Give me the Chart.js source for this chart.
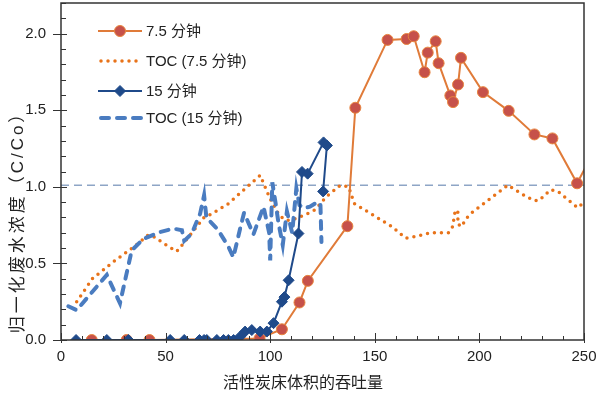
<!DOCTYPE html>
<html>
<head>
<meta charset="utf-8">
<script src="https://cdn.jsdelivr.net/npm/chart.js@4.4.0/dist/chart.umd.min.js"></script>
<style>
  html, body { margin: 0; padding: 0; background: #fff; }
  #wrap { width: 600px; height: 395px; }
</style>
</head>
<body>
<div id="wrap"><canvas id="resultsChart" width="600" height="395"></canvas></div>
<script>
// 7.5 分钟 (circles)
const min75X = [14.7, 31.4, 42.3, 94.9, 105.6, 114, 118, 136.9, 140.7, 156.1, 165.2, 168.6, 173.8, 175.3, 179.1, 180.5, 186.1, 187.4, 189.8, 191.2, 201.7, 214, 226.3, 234.9, 246.7, 255];
const min75Y = [0, 0, 0, 0.01, 0.07, 0.245, 0.386, 0.743, 1.516, 1.959, 1.965, 1.983, 1.748, 1.876, 1.95, 1.807, 1.596, 1.553, 1.668, 1.842, 1.618, 1.496, 1.342, 1.316, 1.023, 1.24];

// TOC (7.5 分钟) dotted
const toc75X = [7.5, 15, 25, 35, 41.6, 45, 48.5, 55.3, 58.2, 68.4, 72.2, 80, 89, 95.2, 100, 104.5, 108, 111, 117.8, 121.5, 126.8, 133.5, 137.5, 140.2, 147.5, 158.2, 164.7, 168.6, 176.9, 185.2, 187.2, 188.5, 190, 189.5, 191.5, 193.5, 196.8, 213.6, 220.7, 226, 228.5, 234, 237.5, 247, 250];
const toc75Y = [0.25, 0.40, 0.51, 0.61, 0.685, 0.67, 0.636, 0.578, 0.625, 0.80, 0.825, 0.89, 1.00, 1.075, 0.92, 0.81, 0.78, 0.786, 0.825, 0.85, 0.935, 1.01, 1.0, 0.89, 0.83, 0.74, 0.665, 0.673, 0.70, 0.70, 0.74, 0.85, 0.83, 0.76, 0.74, 0.79, 0.836, 1.01, 0.95, 0.91, 0.91, 0.98, 0.97, 0.864, 0.90];

// 15 分钟 (diamonds)
const min15X = [7.2, 21.9, 32.2, 52.2, 58.9, 66.2, 68.4, 69.7, 74.5, 77.7, 80, 82.5, 85.5, 88, 91.2, 95.2, 98.4, 101.6, 105.6, 106.8, 108.8, 113.5, 115.2, 117.9, 125.5, 127.1, 125.3];
const min15Y = [0, 0, 0, 0, 0, 0, 0, 0, 0, 0, 0, 0, 0.02, 0.055, 0.065, 0.055, 0.055, 0.11, 0.25, 0.28, 0.39, 0.695, 1.097, 1.086, 1.29, 1.27, 0.97];

// TOC (15 分钟) dashed
const toc15X = [3.5, 7.5, 21.9, 28.2, 33.8, 39.4, 47.4, 53.7, 57.8, 58.9, 62.5, 66.5, 68.4, 69.5, 75, 80, 82.4, 85.5, 87.5, 92, 96.8, 99.5, 100, 101, 102.5, 104, 106, 108, 110.5, 112.5, 114, 116, 119, 122.5, 124, 124.5];
const toc15Y = [0.22, 0.195, 0.425, 0.24, 0.585, 0.66, 0.705, 0.727, 0.717, 0.647, 0.695, 0.825, 0.945, 0.80, 0.72, 0.61, 0.54, 0.72, 0.83, 0.69, 0.87, 0.70, 0.52, 1.03, 0.90, 0.76, 0.62, 0.84, 0.70, 0.99, 0.88, 0.86, 0.87, 0.90, 0.89, 0.64];

// horizontal reference level
const refX = [0, 250];
const refY = [1.01, 1.01];

const xTitle = '活性炭床体积的吞吐量';
const yTitle = '归一化废水浓度（C/Co）';

const FONT = '"Liberation Sans", Arial, "Noto Sans CJK SC", sans-serif';

function pts(xs, ys) {
  return xs.map((x, i) => ({ x: x, y: ys[i] }));
}

const datasets = [
  {
    label: '7.5 分钟',
    data: pts(min75X, min75Y),
    borderColor: '#E07B39',
    borderWidth: 2,
    pointStyle: 'circle',
    pointRadius: 5.5,
    pointBackgroundColor: '#C6514A',
    pointBorderColor: '#E8843E',
    pointBorderWidth: 1,
    order: 2
  },
  {
    label: 'TOC (7.5 分钟)',
    data: pts(toc75X, toc75Y),
    borderColor: '#E8731A',
    borderWidth: 3.5,
    borderDash: [0, 7],
    borderCapStyle: 'round',
    pointRadius: 0,
    order: 4
  },
  {
    label: '15 分钟',
    data: pts(min15X, min15Y),
    borderColor: '#1F4A8A',
    borderWidth: 2,
    pointStyle: 'rectRot',
    pointRadius: 5.5,
    pointBackgroundColor: '#1F4A8A',
    pointBorderColor: '#1F4A8A',
    pointBorderWidth: 1,
    order: 1
  },
  {
    label: 'TOC (15 分钟)',
    data: pts(toc15X, toc15Y),
    borderColor: '#4A7CC0',
    borderWidth: 4,
    borderDash: [8, 8],
    borderCapStyle: 'round',
    pointRadius: 0,
    order: 3
  },
  {
    label: 'ref',
    data: pts(refX, refY),
    borderColor: '#8EA5C6',
    borderWidth: 1.5,
    borderDash: [8, 5],
    pointRadius: 0,
    order: 5
  }
];

// frame, inside tick marks, axis titles
const frameTicks = {
  id: 'frameTicks',
  afterDraw(chart) {
    const { ctx, chartArea: a, scales: { x, y } } = chart;
    ctx.save();
    ctx.strokeStyle = '#333';
    ctx.lineWidth = 1;
    ctx.beginPath();
    for (let i = 0; i <= 22; i++) {
      const py = Math.round(y.getPixelForValue(i / 10)) + 0.5;
      const major = i % 5 === 0;
      ctx.moveTo(a.left - (major ? 8 : 0), py);
      ctx.lineTo(a.left + (major ? 6 : 5), py);
    }
    for (let v = 0; v <= 250; v += 10) {
      const px = Math.round(x.getPixelForValue(v)) + 0.5;
      const major = v % 50 === 0;
      ctx.moveTo(px, a.bottom + (major ? 3 : 0));
      ctx.lineTo(px, a.bottom - (major ? 7 : 4));
    }
    ctx.stroke();
    ctx.lineWidth = 1.5;
    ctx.strokeRect(a.left, a.top, a.right - a.left, a.bottom - a.top);

    ctx.fillStyle = '#222';
    ctx.textAlign = 'center';
    ctx.textBaseline = 'middle';
    ctx.font = '16px ' + FONT;
    ctx.fillText(xTitle, 303, 384);

    ctx.translate(18, 218);
    ctx.rotate(-Math.PI / 2);
    ctx.font = '17px ' + FONT;
    ctx.letterSpacing = '3px';
    ctx.fillText(yTitle, 0, 0);
    ctx.restore();
  }
};

// legend inside the plot, top left
const innerLegend = {
  id: 'innerLegend',
  afterDraw(chart) {
    const ctx = chart.ctx;
    const rows = [31, 61, 91, 118];
    ctx.save();
    for (let i = 0; i < 4; i++) {
      const ds = chart.data.datasets[i];
      const cy = rows[i];
      ctx.save();
      ctx.strokeStyle = ds.borderColor;
      ctx.lineWidth = ds.borderWidth;
      ctx.lineCap = ds.borderCapStyle || 'butt';
      ctx.setLineDash(ds.borderDash || []);
      ctx.beginPath();
      ctx.moveTo(ds.borderDash ? 101 : 98, cy);
      ctx.lineTo(142, cy);
      ctx.stroke();
      ctx.restore();
      if (ds.pointRadius) {
        ctx.fillStyle = ds.pointBackgroundColor;
        ctx.strokeStyle = ds.pointBorderColor;
        ctx.lineWidth = 1;
        ctx.beginPath();
        const r = ds.pointRadius;
        if (ds.pointStyle === 'circle') {
          ctx.arc(120, cy, r, 0, Math.PI * 2);
        } else {
          ctx.moveTo(120, cy - r);
          ctx.lineTo(120 + r, cy);
          ctx.lineTo(120, cy + r);
          ctx.lineTo(120 - r, cy);
          ctx.closePath();
        }
        ctx.fill();
        ctx.stroke();
      }
      ctx.fillStyle = '#222';
      ctx.font = '15px ' + FONT;
      ctx.textAlign = 'left';
      ctx.textBaseline = 'middle';
      ctx.fillText(ds.label, 146, cy + 1);
    }
    ctx.restore();
  }
};

function noPad(scale) {
  scale.paddingTop = 0;
  scale.paddingRight = 0;
  scale.paddingLeft = 0;
  scale.paddingBottom = 0;
}

const config = {
  type: 'line',
  data: { datasets: datasets },
  options: {
    responsive: false,
    animation: false,
    devicePixelRatio: 1,
    layout: { autoPadding: false, padding: { left: 0, top: 3, right: 16, bottom: 0 } },
    elements: { line: { tension: 0 } },
    plugins: {
      legend: { display: false },
      tooltip: { enabled: false }
    },
    scales: {
      x: {
        type: 'linear',
        min: 0,
        max: 250,
        grid: { display: false, drawTicks: false },
        border: { display: false },
        ticks: {
          stepSize: 50,
          padding: 8,
          color: '#222',
          font: { size: 15, family: FONT },
          maxRotation: 0
        },
        afterFit: function (scale) { scale.height = 55; noPad(scale); }
      },
      y: {
        min: 0,
        max: 2.2,
        grid: { display: false, drawTicks: false },
        border: { display: false },
        ticks: {
          stepSize: 0.5,
          includeBounds: false,
          padding: 15,
          color: '#222',
          font: { size: 15, family: FONT },
          callback: function (v) { return v.toFixed(1); }
        },
        afterFit: function (scale) { scale.width = 61; noPad(scale); }
      }
    }
  },
  plugins: [frameTicks, innerLegend]
};

new Chart(document.getElementById('resultsChart'), config);
</script>
</body>
</html>
